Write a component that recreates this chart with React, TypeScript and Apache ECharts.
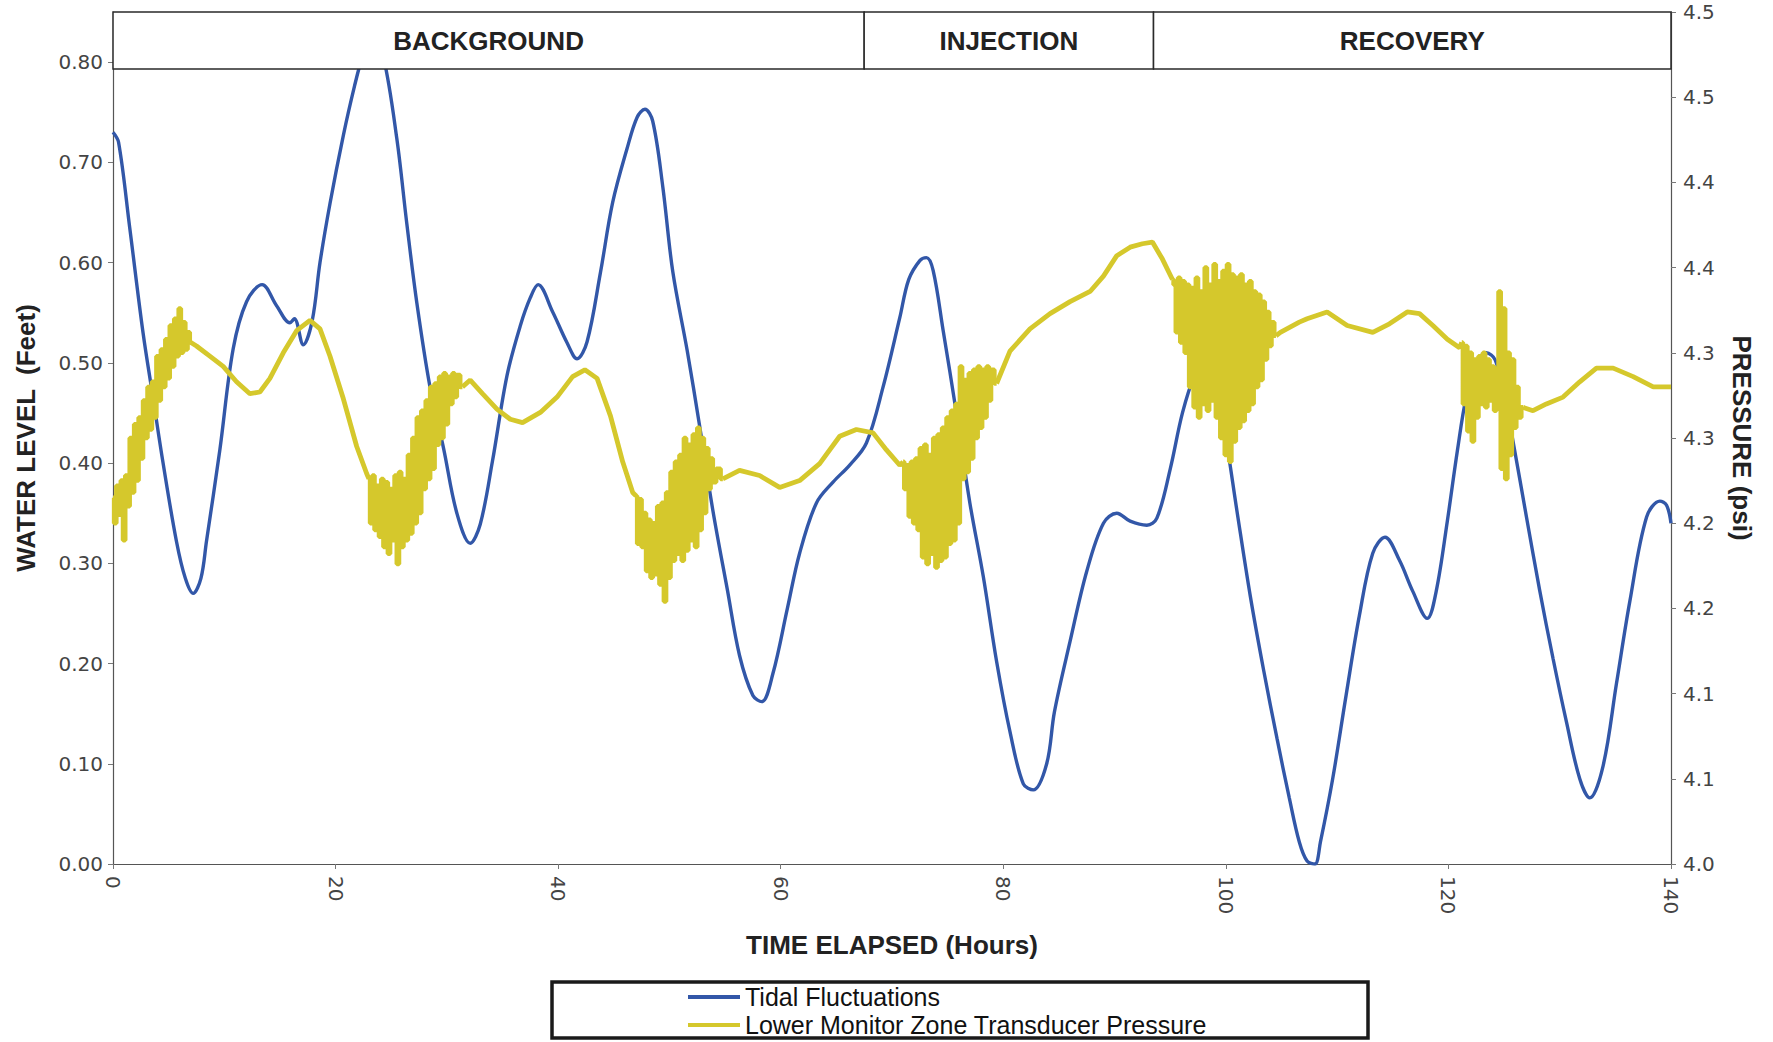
import React, { useEffect, useRef } from 'react';
import * as echarts from 'echarts';

// Test phases shown in the banner across the top of the plot (hours)
const phaseNames = ['BACKGROUND', 'INJECTION', 'RECOVERY'];
const phaseBounds = [0, 67.5, 93.5, 140];

// Tidal fluctuation record (water level, feet)
const tidalHours = [
  0, 0.5, 1.5, 2.7, 3.6, 4.5, 5.7, 6.5, 7.2, 7.9, 8.4, 9.6, 10.8, 12.0, 13.4, 14.7, 15.9, 16.3, 17.1, 17.9,
  18.6, 19.5, 20.7, 21.7, 22.4, 23.3, 24.3, 25.5, 26.4, 27.3, 28.5, 29.7, 30.9, 32.1, 33.0, 34.1, 35.4, 36.6,
  37.5, 38.2, 39.5, 40.8, 41.7, 42.6, 43.8, 44.9, 46.2, 47.1, 47.8, 48.5, 49.4, 50.3, 51.6, 52.7, 53.9, 55.2,
  56.3, 57.5, 58.3, 59.3, 60.6, 61.7, 63.2, 64.7, 66.2, 67.7, 69.2, 70.7, 71.5, 72.5, 73.1, 73.7, 74.6, 75.8,
  77.0, 78.2, 79.4, 80.6, 81.8, 82.7, 83.9, 84.6, 86.0, 87.5, 89.0, 90.2, 91.4, 92.9, 93.8, 95.0, 96.1, 97.2,
  98.0, 99.0, 100.0, 101.0, 102.2, 103.4, 104.6, 105.7, 106.6, 107.3, 108.0, 108.5, 109.6, 110.8, 112.0, 113.2,
  114.3, 115.6, 116.8, 118.1, 118.9, 119.9, 120.8, 121.6, 122.5, 123.4, 124.2, 125.0, 125.8, 127.0, 128.2,
  129.4, 130.6, 131.8, 132.7, 133.9, 135.1, 136.3, 137.8, 139.0, 139.6, 140.0,
];
const tidalFeet = [
  0.73, 0.72, 0.635, 0.53, 0.465, 0.40, 0.322, 0.285, 0.27, 0.285, 0.322, 0.413, 0.514, 0.561, 0.578, 0.557,
  0.54, 0.544, 0.518, 0.542, 0.60, 0.659, 0.727, 0.776, 0.805, 0.83, 0.805, 0.724, 0.639, 0.56, 0.475, 0.415,
  0.35, 0.32, 0.339, 0.402, 0.487, 0.537, 0.565, 0.578, 0.551, 0.52, 0.504, 0.521, 0.59, 0.66, 0.714, 0.745,
  0.753, 0.741, 0.676, 0.591, 0.512, 0.438, 0.353, 0.274, 0.208, 0.168, 0.162, 0.19, 0.255, 0.31, 0.36,
  0.381, 0.398, 0.42, 0.476, 0.545, 0.583, 0.602, 0.605, 0.592, 0.532, 0.449, 0.36, 0.287, 0.202, 0.132, 0.08,
  0.074, 0.1, 0.152, 0.222, 0.292, 0.34, 0.35, 0.342, 0.338, 0.345, 0.394, 0.45, 0.488, 0.5, 0.484, 0.425,
  0.352, 0.267, 0.193, 0.125, 0.066, 0.022, 0.003, 0.0, 0.022, 0.085, 0.168, 0.248, 0.31, 0.326, 0.303, 0.272,
  0.245, 0.272, 0.342, 0.412, 0.466, 0.5, 0.51, 0.503, 0.468, 0.422, 0.347, 0.273, 0.205, 0.142, 0.085, 0.066,
  0.098, 0.18, 0.262, 0.346, 0.362, 0.358, 0.34,
];

// Lower monitor zone transducer pressure (hours, psi): steady trend between the noisy bursts
const pressureTrend = [
  [
    [7.0, 4.306], [7.5, 4.304], [8.7, 4.298], [9.9, 4.292], [11.1, 4.283], [12.3, 4.276], [13.2, 4.277],
    [14.1, 4.285], [15.3, 4.3], [16.5, 4.313], [17.7, 4.319], [18.6, 4.314], [19.5, 4.298], [20.7, 4.273],
    [21.9, 4.245], [22.8, 4.229], [23.0, 4.226],
  ],
  [
    [31.4, 4.28], [32.1, 4.284], [33.2, 4.276], [34.5, 4.267], [35.7, 4.261], [36.8, 4.259], [38.4, 4.265],
    [39.9, 4.274], [41.3, 4.286], [42.4, 4.29], [43.5, 4.285], [44.7, 4.263], [45.8, 4.236], [46.7, 4.218],
    [47.0, 4.216],
  ],
  [
    [54.8, 4.226], [56.3, 4.231], [58.1, 4.228], [59.9, 4.221], [61.7, 4.225], [63.5, 4.235], [65.3, 4.251],
    [66.8, 4.255], [68.3, 4.253], [69.5, 4.243], [70.7, 4.234], [71.0, 4.236],
  ],
  [
    [79.4, 4.282], [80.6, 4.301], [82.4, 4.314], [84.2, 4.323], [86.0, 4.33], [87.8, 4.336], [89.0, 4.345],
    [90.2, 4.357], [91.4, 4.362], [92.5, 4.364], [93.4, 4.365], [94.3, 4.355], [95.2, 4.343],
  ],
  [
    [104.5, 4.31], [104.9, 4.312], [106.6, 4.318], [107.3, 4.32], [109.1, 4.324], [110.9, 4.316],
    [113.2, 4.312], [114.7, 4.317], [116.3, 4.324], [117.4, 4.323], [118.6, 4.316], [119.9, 4.308],
    [121.0, 4.303], [121.2, 4.306],
  ],
  [
    [126.7, 4.268], [127.6, 4.266], [128.8, 4.27], [130.3, 4.274], [131.8, 4.283], [133.3, 4.291],
    [134.8, 4.291], [136.6, 4.286], [138.4, 4.28], [140.0, 4.28],
  ],
];

// Noisy pressure bursts (hours, psi)
const burstStart = [
  [0.0, 4.215], [0.2, 4.2], [0.4, 4.222], [0.6, 4.205], [0.8, 4.225], [1.0, 4.19], [1.2, 4.228], [1.4, 4.21],
  [1.6, 4.25], [1.8, 4.218], [2.0, 4.258], [2.2, 4.225], [2.4, 4.262], [2.6, 4.238], [2.8, 4.272], [3.0, 4.25],
  [3.2, 4.28], [3.4, 4.255], [3.6, 4.283], [3.8, 4.262], [4.0, 4.298], [4.2, 4.272], [4.4, 4.302], [4.6, 4.28],
  [4.8, 4.308], [5.0, 4.285], [5.2, 4.316], [5.4, 4.292], [5.6, 4.32], [5.8, 4.298], [6.0, 4.326], [6.2, 4.3],
  [6.4, 4.318], [6.6, 4.302], [6.8, 4.312], [7.0, 4.306],
];
const burstDay1 = [
  [23.0, 4.226], [23.2, 4.2], [23.4, 4.228], [23.6, 4.196], [23.8, 4.222], [24.0, 4.192], [24.2, 4.226],
  [24.4, 4.186], [24.6, 4.224], [24.8, 4.182], [25.0, 4.22], [25.2, 4.19], [25.4, 4.228], [25.6, 4.176],
  [25.8, 4.23], [26.0, 4.186], [26.2, 4.226], [26.4, 4.19], [26.6, 4.24], [26.8, 4.194], [27.0, 4.25],
  [27.2, 4.2], [27.4, 4.262], [27.6, 4.206], [27.8, 4.266], [28.0, 4.22], [28.2, 4.272], [28.4, 4.226],
  [28.6, 4.28], [28.8, 4.232], [29.0, 4.282], [29.2, 4.246], [29.4, 4.286], [29.6, 4.25], [29.8, 4.288],
  [30.0, 4.258], [30.2, 4.286], [30.4, 4.27], [30.6, 4.288], [30.8, 4.274], [31.0, 4.287], [31.4, 4.28],
];
const burstDay2 = [
  [47.0, 4.216], [47.2, 4.188], [47.4, 4.214], [47.6, 4.186], [47.8, 4.206], [48.0, 4.172], [48.2, 4.202],
  [48.4, 4.168], [48.6, 4.2], [48.8, 4.17], [49.0, 4.21], [49.2, 4.164], [49.4, 4.212], [49.6, 4.154],
  [49.8, 4.218], [50.0, 4.168], [50.2, 4.23], [50.4, 4.178], [50.6, 4.236], [50.8, 4.182], [51.0, 4.24],
  [51.2, 4.178], [51.4, 4.25], [51.6, 4.184], [51.8, 4.246], [52.0, 4.19], [52.2, 4.252], [52.4, 4.186],
  [52.6, 4.256], [52.8, 4.196], [53.0, 4.25], [53.2, 4.206], [53.4, 4.244], [53.6, 4.22], [53.8, 4.238],
  [54.0, 4.224], [54.4, 4.232], [54.8, 4.226],
];
const burstInjection = [
  [71.0, 4.236], [71.2, 4.22], [71.4, 4.234], [71.6, 4.204], [71.8, 4.236], [72.0, 4.2], [72.2, 4.238],
  [72.4, 4.196], [72.6, 4.244], [72.8, 4.18], [73.0, 4.246], [73.2, 4.176], [73.4, 4.24], [73.6, 4.182],
  [73.8, 4.25], [74.0, 4.174], [74.2, 4.252], [74.4, 4.178], [74.6, 4.256], [74.8, 4.18], [75.0, 4.262],
  [75.2, 4.188], [75.4, 4.266], [75.6, 4.19], [75.8, 4.27], [76.0, 4.2], [76.2, 4.292], [76.4, 4.226],
  [76.6, 4.284], [76.8, 4.23], [77.0, 4.288], [77.2, 4.238], [77.4, 4.29], [77.6, 4.25], [77.8, 4.292],
  [78.0, 4.256], [78.2, 4.29], [78.4, 4.262], [78.6, 4.292], [78.8, 4.272], [79.0, 4.29], [79.4, 4.282],
];
const burstRecovery = [
  [95.2, 4.343], [95.4, 4.34], [95.6, 4.312], [95.8, 4.344], [96.0, 4.306], [96.2, 4.342], [96.4, 4.3],
  [96.6, 4.34], [96.8, 4.28], [97.0, 4.338], [97.2, 4.268], [97.4, 4.344], [97.6, 4.262], [97.8, 4.336],
  [98.0, 4.27], [98.2, 4.35], [98.4, 4.266], [98.6, 4.34], [98.8, 4.272], [99.0, 4.352], [99.2, 4.262],
  [99.4, 4.342], [99.6, 4.25], [99.8, 4.348], [100.0, 4.24], [100.2, 4.352], [100.4, 4.236], [100.6, 4.346],
  [100.8, 4.248], [101.0, 4.344], [101.2, 4.256], [101.4, 4.346], [101.6, 4.26], [101.8, 4.34], [102.0, 4.266],
  [102.2, 4.342], [102.4, 4.27], [102.6, 4.336], [102.8, 4.28], [103.0, 4.334], [103.2, 4.284], [103.4, 4.33],
  [103.6, 4.296], [103.8, 4.324], [104.0, 4.304], [104.2, 4.318], [104.5, 4.31],
];
const burstLate = [
  [121.2, 4.306], [121.4, 4.27], [121.6, 4.304], [121.8, 4.254], [122.0, 4.3], [122.2, 4.248], [122.4, 4.296],
  [122.6, 4.262], [122.8, 4.298], [123.0, 4.27], [123.2, 4.3], [123.4, 4.268], [123.6, 4.296], [123.8, 4.272],
  [124.0, 4.292], [124.2, 4.266], [124.4, 4.282], [124.6, 4.336], [124.8, 4.232], [125.0, 4.326],
  [125.2, 4.226], [125.4, 4.3], [125.6, 4.24], [125.8, 4.296], [126.0, 4.256], [126.2, 4.28], [126.4, 4.262],
  [126.7, 4.268],
];

// Axis ticks
const hourTicks = [0, 20, 40, 60, 80, 100, 120, 140];
const waterLevelTicks = [0, 0.1, 0.2, 0.3, 0.4, 0.5, 0.6, 0.7, 0.8];
const pressureTicks = [4.0, 4.05, 4.1, 4.15, 4.2, 4.25, 4.3, 4.35, 4.4, 4.45, 4.5];
const pressureTickLabels = ['4.0', '4.1', '4.1', '4.2', '4.2', '4.3', '4.3', '4.4', '4.4', '4.5', '4.5'];

const SERIES_TIDAL = 'Tidal Fluctuations';
const SERIES_PRESSURE = 'Lower Monitor Zone Transducer Pressure';

const TICK_FONT = "'DejaVu Sans', sans-serif";
const TEXT_FONT = "'Liberation Sans', Arial, sans-serif";
const BLUE = '#3257a8';
const YELLOW = '#d5c82c';

// Plot frame in pixels
const GRID = { left: 113, right: 102, top: 12, bottom: 178 };
const PLOT_HEIGHT = 1042 - GRID.top - GRID.bottom;
const BANNER_HEIGHT = 57;
const WATER_MAX = 0.85;
const bannerBottom = WATER_MAX * (1 - BANNER_HEIGHT / PLOT_HEIGHT);

// join separate runs into one list, with a break between runs
const joinRuns = (runs: number[][][]) =>
  runs.flatMap((run, i) => (i === 0 ? run : [[run[0][0], null], ...run]));

const legendText = { fontFamily: TEXT_FONT, fontSize: 25, color: '#111', lineHeight: 28 };

export default function App() {
  const ref = useRef<HTMLDivElement>(null);

  useEffect(() => {
    if (!ref.current) return;
    const chart = echarts.init(ref.current, undefined, { renderer: 'svg' });

    const tidalData = tidalHours.map((h, i) => [h, tidalFeet[i]]);
    const trendData = joinRuns(pressureTrend);
    const bursts = [burstStart, burstDay1, burstDay2, burstInjection, burstRecovery, burstLate];

    const legendBase = {
      orient: 'vertical',
      left: 688,
      padding: 0,
      itemWidth: 52,
      itemHeight: 4,
      icon: 'rect',
      selectedMode: false,
      textStyle: legendText,
    };

    // each burst is its own stepped run of the pressure record
    const burstSeries = bursts.map((run) => ({
      name: SERIES_PRESSURE,
      type: 'line',
      yAxisIndex: 1,
      data: run,
      step: 'middle',
      showSymbol: false,
      lineStyle: { color: YELLOW, width: 4.5 },
      itemStyle: { color: YELLOW },
      z: 3,
    }));

    chart.setOption({
      animation: false,
      backgroundColor: '#ffffff',
      grid: { ...GRID, containLabel: false },
      legend: [
        { ...legendBase, data: [SERIES_TIDAL], top: 983 },
        { ...legendBase, data: [SERIES_PRESSURE], top: 1011 },
      ],
      xAxis: {
        type: 'value',
        min: 0,
        max: 140,
        interval: 20,
        name: 'TIME ELAPSED (Hours)',
        nameLocation: 'middle',
        nameGap: 68,
        nameTextStyle: { fontFamily: TEXT_FONT, fontWeight: 'bold', fontSize: 26, color: '#222' },
        axisLine: { lineStyle: { color: '#555', width: 1.2 } },
        axisTick: { show: true, length: 5, customValues: hourTicks, lineStyle: { color: '#777' } },
        axisLabel: {
          customValues: hourTicks,
          rotate: -90,
          margin: 12,
          fontFamily: TICK_FONT,
          fontSize: 20,
          color: '#444',
        },
        splitLine: { show: false },
      },
      yAxis: [
        {
          type: 'value',
          position: 'left',
          min: 0,
          max: WATER_MAX,
          name: 'WATER LEVEL  (Feet)',
          nameLocation: 'middle',
          nameGap: 74,
          nameTextStyle: { fontFamily: TEXT_FONT, fontWeight: 'bold', fontSize: 26, color: '#222' },
          axisLine: { show: true, lineStyle: { color: '#555', width: 1.2 } },
          axisTick: { show: true, length: 5, customValues: waterLevelTicks, lineStyle: { color: '#777' } },
          axisLabel: {
            customValues: waterLevelTicks,
            margin: 10,
            fontFamily: TICK_FONT,
            fontSize: 20,
            color: '#444',
            formatter: (v: number) => v.toFixed(2),
          },
          splitLine: { show: false },
        },
        {
          type: 'value',
          position: 'right',
          min: 4.0,
          max: 4.5,
          interval: 0.05,
          name: 'PRESSURE (psi)',
          nameLocation: 'middle',
          nameRotate: -90,
          nameGap: 58,
          nameTextStyle: { fontFamily: TEXT_FONT, fontWeight: 'bold', fontSize: 26, color: '#222' },
          axisLine: { show: true, lineStyle: { color: '#555', width: 1.2 } },
          axisTick: { show: true, length: 5, customValues: pressureTicks, lineStyle: { color: '#777' } },
          axisLabel: {
            customValues: pressureTicks,
            margin: 12,
            fontFamily: TICK_FONT,
            fontSize: 20,
            color: '#444',
            formatter: (v: number) => pressureTickLabels[Math.round((v - 4.0) / 0.05)] ?? '',
          },
          splitLine: { show: false },
        },
      ],
      series: [
        {
          name: SERIES_TIDAL,
          type: 'line',
          yAxisIndex: 0,
          data: tidalData,
          showSymbol: false,
          smooth: 0.35,
          lineStyle: { color: BLUE, width: 3.4 },
          itemStyle: { color: BLUE },
          z: 2,
        },
        {
          name: SERIES_PRESSURE,
          type: 'line',
          yAxisIndex: 1,
          data: trendData,
          showSymbol: false,
          connectNulls: false,
          lineStyle: { color: YELLOW, width: 4.8 },
          itemStyle: { color: YELLOW },
          z: 3,
        },
        ...burstSeries,
        {
          // phase banner across the top of the plot
          name: 'phases',
          type: 'line',
          yAxisIndex: 0,
          data: [],
          silent: true,
          z: 10,
          markArea: {
            silent: true,
            z: 10,
            itemStyle: { color: '#ffffff', opacity: 1, borderColor: '#2a2a2a', borderWidth: 1.5 },
            label: {
              show: true,
              position: 'inside',
              fontFamily: TEXT_FONT,
              fontWeight: 'bold',
              fontSize: 26,
              color: '#222',
            },
            data: phaseNames.map((name, i) => [
              { name, xAxis: phaseBounds[i], yAxis: bannerBottom },
              { xAxis: phaseBounds[i + 1], yAxis: WATER_MAX },
            ]),
          },
        },
      ],
      graphic: [
        {
          type: 'rect',
          z: 100,
          silent: true,
          shape: { x: 552, y: 982, width: 816, height: 56 },
          style: { fill: 'none', stroke: '#1a1a1a', lineWidth: 3.5 },
        },
      ],
    });

    return () => chart.dispose();
  }, []);

  return (
    <div
      ref={ref}
      style={{ position: 'fixed', left: 0, top: 0, width: 1773, height: 1042, background: '#fff' }}
    />
  );
}
